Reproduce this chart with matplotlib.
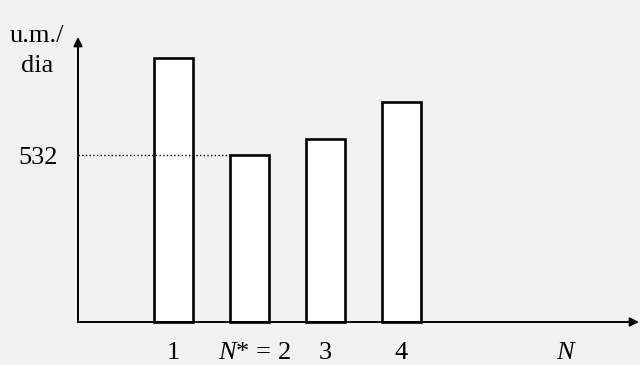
import matplotlib.pyplot as plt

plt.rcParams['font.family'] = ['Liberation Serif', 'DejaVu Serif']
plt.rcParams['mathtext.fontset'] = 'custom'
plt.rcParams['mathtext.rm'] = 'Liberation Serif'
plt.rcParams['mathtext.it'] = 'Liberation Serif:italic'

# dados (u.m./dia)
positions = [1, 2, 3, 4]
values = [840, 532, 582, 702]
tick_labels = ["1", "$N$* = 2", "3", "4"]
optimum = 532
y_label = "u.m./\ndia"
x_label = "$N$"


def main():
    fig = plt.figure(figsize=(6.4, 3.65), dpi=100)
    fig.patch.set_facecolor("#f2f2f2")
    ax = fig.add_axes([0, 0, 1, 1])
    ax.set_facecolor("#f2f2f2")
    ax.axis("off")

    px_x = 76.0          # pixels por unidade em x
    px_y = 532 / 167.0   # u.m. por pixel em y
    x0 = 1 - 173.5 / px_x
    ax.set_xlim(x0, x0 + 640 / px_x)
    ax.set_ylim(-43 * px_y, 322 * px_y)

    x_axis = x0 + 78 / px_x
    x_end = x0 + 639 / px_x
    y_end = (322 - 37) * px_y

    width = 0.51
    ax.bar(positions, values, width=width, facecolor="white",
           edgecolor="black", linewidth=1.9, zorder=3)

    # eixos com setas
    ax.annotate("", xy=(x_end, 0), xytext=(x_axis, 0),
                arrowprops=dict(arrowstyle="-|>", lw=1.4, color="black",
                                mutation_scale=13, shrinkA=0, shrinkB=0))
    ax.annotate("", xy=(x_axis, y_end), xytext=(x_axis, 0),
                arrowprops=dict(arrowstyle="-|>", lw=1.4, color="black",
                                mutation_scale=13, shrinkA=0, shrinkB=0))

    # linha pontilhada no valor ótimo (passa por cima da barra 1)
    ax.plot([x_axis, positions[1] - width / 2], [optimum, optimum],
            ls=":", lw=1.0, color="black", zorder=4)

    ty = -31 * px_y
    for p, lab in zip(positions, tick_labels):
        off = 0.06 if "N" in lab else 0
        ax.text(p + off, ty, lab, ha="center", va="center", fontsize=19)
    ax.text(x0 + 567 / px_x, ty, x_label, ha="center", va="center", fontsize=19)

    ax.text(x0 + 58 / px_x, optimum - 3 * px_y, str(optimum), ha="right",
            va="center", fontsize=19)
    lines = y_label.split("\n")
    ax.text(x0 + 37 / px_x, (322 - 36) * px_y, lines[0], ha="center",
            va="center", fontsize=19)
    ax.text(x0 + 37 / px_x, (322 - 66) * px_y, lines[1], ha="center",
            va="center", fontsize=19)

    fig.savefig("out.png", dpi=100, facecolor=fig.get_facecolor())


if __name__ == "__main__":
    main()
